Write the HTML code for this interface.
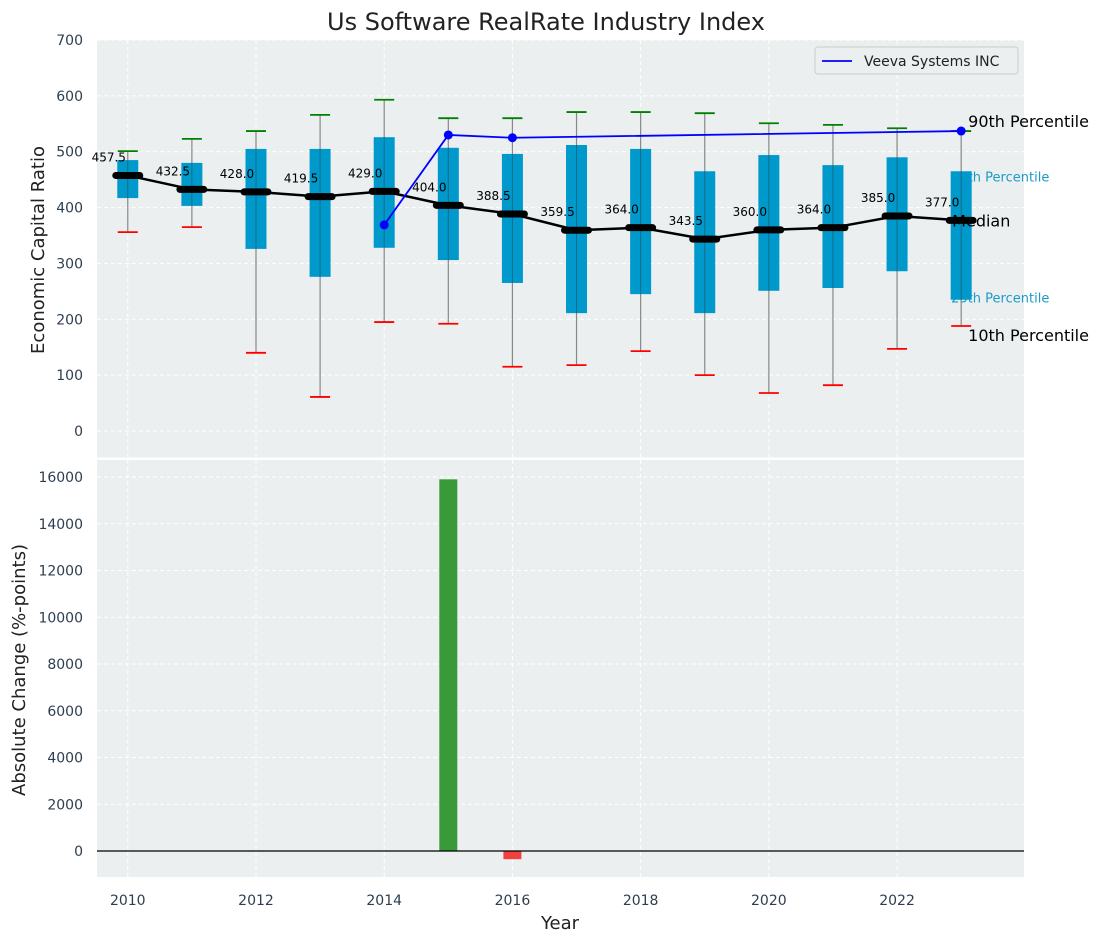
<!DOCTYPE html>
<html><head><meta charset="utf-8"><style>
body{margin:0;background:#fff;}
svg{display:block;font-family:"DejaVu Sans","Liberation Sans",sans-serif;}
</style></head><body>
<svg id="chart" width="1104" height="942" xmlns="http://www.w3.org/2000/svg"></svg>
<script>
const years=[2010,2011,2012,2013,2014,2015,2016,2017,2018,2019,2020,2021,2022,2023];
const p10=[356,365,140,61,195,192,115,118,143,100,68,82,147,188];
const p25=[417,403,326,276,328,306,265,211,245,211,251,256,286,235];
const medians=[457.5,432.5,428.0,419.5,429.0,404.0,388.5,359.5,364.0,343.5,360.0,364.0,385.0,377.0];
const p75=[485,480,505,505,526,507,496,512,505,465,494,476,490,465];
const p90=[501,523,537,566,593,560,560,571,571,569,551,548,542,537];
const veevaYears=[2014,2015,2016,2023];
const veevaVals=[369,530,525,537];
const changeYears=[2015,2016];
const changeVals=[15900,-350];
const topTicks=[0,100,200,300,400,500,600,700];
const botTicks=[0,2000,4000,6000,8000,10000,12000,14000,16000];
const xTicks=[2010,2012,2014,2016,2018,2020,2022];

const svg=document.getElementById('chart');
const NS='http://www.w3.org/2000/svg';
function mk(tag,attrs,parent){const e=document.createElementNS(NS,tag);for(const k in attrs)e.setAttribute(k,attrs[k]);(parent||svg).appendChild(e);return e;}
const L=97,R=1024;
const X=y=>L+(y-2009.52)/(23.98-9.52)*(R-L);
const T0=40,T1=458,B0=460,B1=877;
const YT=v=>431-v*(431-40)/700;
const YB=v=>851-v*(851-477)/16000;

let t=mk('text',{x:546,y:30,'text-anchor':'middle','font-size':24,fill:'#222'});t.textContent='Us Software RealRate Industry Index';


let bg=mk('rect',{x:L,y:T0,width:R-L,height:T1-T0,fill:'#ebeff0'});

let bg2=mk('rect',{x:L,y:B0,width:R-L,height:B1-B0,fill:'#ebeff0'});


xTicks.forEach(y=>{
 mk('line',{x1:X(y),x2:X(y),y1:T0,y2:T1,stroke:'#fff','stroke-dasharray':'4,3','stroke-width':1});
 mk('line',{x1:X(y),x2:X(y),y1:B0,y2:B1,stroke:'#fff','stroke-dasharray':'4,3','stroke-width':1});
});
topTicks.forEach(v=>{
 mk('line',{x1:L,x2:R,y1:YT(v),y2:YT(v),stroke:'#fff','stroke-dasharray':'4,3'});
 let tx=mk('text',{x:L-14,y:YT(v)+5,'text-anchor':'end','font-size':14,fill:'#2d3e50'});tx.textContent=v;
 
});
botTicks.forEach(v=>{
 mk('line',{x1:L,x2:R,y1:YB(v),y2:YB(v),stroke:'#fff','stroke-dasharray':'4,3'});
 let tx=mk('text',{x:L-14,y:YB(v)+5,'text-anchor':'end','font-size':14,fill:'#2d3e50'});tx.textContent=v;
 
});
xTicks.forEach(y=>{
 let tx=mk('text',{x:X(y),y:905,'text-anchor':'middle','font-size':14,fill:'#2d3e50'});tx.textContent=y;
 
});
mk('line',{x1:L,x2:R,y1:458.5,y2:458.5,stroke:'#fff','stroke-width':2});

const lastX=X(2023);
function lab(txt,x,y,size,fill,name){let e=mk('text',{x:x,y:y,'font-size':size,fill:fill});e.textContent=txt;}
lab('75th Percentile',lastX-10,YT(p75[13])+10,13,'#1a9bc9','label-75th');
lab('25th Percentile',lastX-10,YT(p25[13])+3,13,'#1a9bc9','label-25th');

years.forEach((y,i)=>{
 const cx=X(y);
 let w=mk('line',{x1:cx,x2:cx,y1:YT(p90[i]),y2:YT(p10[i]),stroke:'#888','stroke-width':1.2});
 
 let b=mk('rect',{x:cx-10.5,y:YT(p75[i]),width:21,height:YT(p25[i])-YT(p75[i]),fill:'#0099cc'});
 
 mk('line',{x1:cx,x2:cx,y1:YT(p75[i]),y2:YT(p25[i]),stroke:'#1a6a88','stroke-width':1});
 let c1=mk('line',{x1:cx-10,x2:cx+10,y1:YT(p90[i]),y2:YT(p90[i]),stroke:'green','stroke-width':1.8});
 
 let c2=mk('line',{x1:cx-10,x2:cx+10,y1:YT(p10[i]),y2:YT(p10[i]),stroke:'red','stroke-width':1.8});
 
});
let pts=years.map((y,i)=>X(y)+','+YT(medians[i])).join(' ');
let ml=mk('polyline',{points:pts,fill:'none',stroke:'#000','stroke-width':2.5});

years.forEach((y,i)=>{
 const cx=X(y),cy=YT(medians[i]);
 let m=mk('line',{x1:cx-12,x2:cx+12,y1:cy,y2:cy,stroke:'#000','stroke-width':7,'stroke-linecap':'round'});
 
 let tx=mk('text',{x:cx-19,y:cy-14,'text-anchor':'middle','font-size':12,fill:'#000'});tx.textContent=medians[i].toFixed(1);
 
});
let vp=veevaYears.map((y,i)=>X(y)+','+YT(veevaVals[i])).join(' ');
let vl=mk('polyline',{points:vp,fill:'none',stroke:'blue','stroke-width':1.8});

veevaYears.forEach((y,i)=>{let c=mk('circle',{cx:X(y),cy:YT(veevaVals[i]),r:4.5,fill:'blue'});
 });

lab('90th Percentile',lastX+7,YT(p90[13])-4,16,'#000','label-90th');
lab('Median',lastX-9,YT(medians[13])+6,16,'#000','label-median');
lab('10th Percentile',lastX+7,YT(p10[13])+15,16,'#000','label-10th');

let lg=mk('g',{});
mk('rect',{x:815,y:47,width:203,height:27,rx:3,fill:'#ebeff0',stroke:'#ccc'},lg);
mk('line',{x1:822,x2:852,y1:61,y2:61,stroke:'blue','stroke-width':1.8},lg);
let lt=mk('text',{x:864,y:66,'font-size':14,fill:'#222'},lg);lt.textContent='Veeva Systems INC';


changeYears.forEach((y,i)=>{
 const v=changeVals[i];const y0=YB(0),y1=YB(v);
 let r=mk('rect',{x:X(y)-9,y:Math.min(y0,y1),width:18,height:Math.abs(y1-y0),fill:v>=0?'#3a9a3a':'#f24040'});
 
});
let zl=mk('line',{x1:L,x2:R,y1:YB(0),y2:YB(0),stroke:'#000','stroke-width':1.2});


let a1=mk('text',{x:0,y:0,'text-anchor':'middle','font-size':18,fill:'#222',transform:'translate(44,250) rotate(-90)'});a1.textContent='Economic Capital Ratio';

let a2=mk('text',{x:0,y:0,'text-anchor':'middle','font-size':18,fill:'#222',transform:'translate(25,670) rotate(-90)'});a2.textContent='Absolute Change (%-points)';

let a3=mk('text',{x:560,y:929,'text-anchor':'middle','font-size':18,fill:'#222'});a3.textContent='Year';

</script>
</body></html>
